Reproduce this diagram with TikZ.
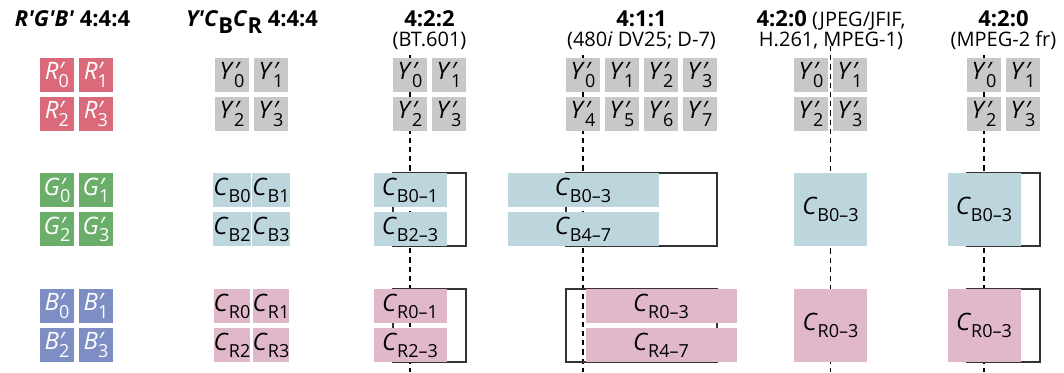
\documentclass[tikz,border=0pt]{standalone}
\usepackage{fontspec}
\setmainfont{Open Sans}
\usetikzlibrary{positioning}
\definecolor{primered}{HTML}{DA6A7A}
\definecolor{primegreen}{HTML}{6AAE6A}
\definecolor{primeblue}{HTML}{7E8DC4}
\definecolor{lumagray}{HTML}{C8C8C8}
\definecolor{chromablue}{HTML}{BDD6DD}
\definecolor{chromared}{HTML}{E0B8CA}
\newcommand{\lowsub}[1]{\raisebox{-3.6pt}{\fontsize{9}{9}\selectfont #1}}
\newcommand{\smp}[2]{\textit{#1}\makebox[0pt][l]{\textit{′}}\lowsub{#2}}
\newcommand{\chr}[2]{\textit{#1}\lowsub{#2}}

\begin{document}
\begin{tikzpicture}[
  x=0.5pt, y=-0.5pt,
  sample/.style={minimum width=17pt, minimum height=17pt, inner sep=0pt, outer sep=0pt,
    font=\fontsize{12}{12}\selectfont},
  rbox/.style={sample, fill=primered, text=white},
  gbox/.style={sample, fill=primegreen, text=white},
  bbox/.style={sample, fill=primeblue, text=white},
  ybox/.style={sample, fill=lumagray},
  cbbox/.style={sample, fill=chromablue},
  crbox/.style={sample, fill=chromared},
  pair/.style={minimum width=36.5pt},
  quad/.style={minimum width=75.5pt},
  block/.style={minimum width=36.5pt, minimum height=36.5pt},
  nominal/.style={draw=black!80, line width=0.6pt, minimum height=36.5pt,
    inner sep=0pt, outer sep=0pt},
  siting/.style={draw=black, line width=0.6pt, dash pattern=on 2.6pt off 2pt},
  htitle/.style={anchor=base, font=\bfseries\fontsize{11}{11}\selectfont},
  hsub/.style={anchor=base, font=\fontsize{10}{10}\selectfont},
]
\useasboundingbox (0,0) rectangle (1064,372);

% ---- headings ----
\node[htitle] (t444rgb) at (72.5,26.5) {\textit{R′G′B′} 4:4:4};
\node[htitle] (t444ycc) at (252,26.5) {\textit{Y′C}\raisebox{-3.6pt}{B}\textit{C}\raisebox{-3.6pt}{R} 4:4:4};
\node[htitle] (t422) at (429.5,26.5) {4:2:2};
\node[hsub] (s422) at (429.5,46.5) {(BT.601)};
\node[htitle] (t411) at (641.5,26.5) {4:1:1};
\node[hsub] (s411) at (641.5,46.5) {(480\textit{i} DV25; D-7)};
\node[hsub] (t420j) at (831,26.5) {\textbf{\fontsize{11}{11}\selectfont 4:2:0} (JPEG/JFIF,};
\node[hsub] (s420j) at (831,46.5) {H.261, MPEG-1)};
\node[htitle] (t420m) at (1003.5,26.5) {4:2:0};
\node[hsub] (s420m) at (1003.5,46.5) {(MPEG-2 fr)};

% ---- siting lines and nominal chroma areas (behind the samples) ----
\coordinate (d422t) at (410,55);   \coordinate (d422b) at (410,372);
\coordinate (d411t) at (583,55);   \coordinate (d411b) at (583,372);
\coordinate (d420jt) at (830.5,46); \coordinate (d420jb) at (830.5,372);
\coordinate (d420mt) at (984,55);  \coordinate (d420mb) at (984,372);
\draw[siting] (d422t) -- (d422b);
\draw[siting] (d411t) -- (d411b);
\draw[siting] (d420jt) -- (d420jb);
\draw[siting] (d420mt) -- (d420mb);
\node[nominal, minimum width=36.5pt] (n422b) at (429.5,209.5) {};
\node[nominal, minimum width=36.5pt] (n422r) at (429.5,325.5) {};
\node[nominal, minimum width=75.5pt] (n411b) at (641.5,209.5) {};
\node[nominal, minimum width=75.5pt] (n411r) at (641.5,325.5) {};
\node[nominal, minimum width=36.5pt] (n420mb) at (1003.5,209.5) {};
\node[nominal, minimum width=36.5pt] (n420mr) at (1003.5,325.5) {};

% ---- R'G'B' 4:4:4 ----
\node[rbox] (r0) at (57,75) {\smp{R}{0}};
\node[rbox] (r1) at (96,75) {\smp{R}{1}};
\node[rbox] (r2) at (57,114) {\smp{R}{2}};
\node[rbox] (r3) at (96,114) {\smp{R}{3}};
\node[gbox] (g0) at (57,190) {\smp{G}{0}};
\node[gbox] (g1) at (96,190) {\smp{G}{1}};
\node[gbox] (g2) at (57,229) {\smp{G}{2}};
\node[gbox] (g3) at (96,229) {\smp{G}{3}};
\node[bbox] (b0) at (57,306) {\smp{B}{0}};
\node[bbox] (b1) at (96,306) {\smp{B}{1}};
\node[bbox] (b2) at (57,345) {\smp{B}{2}};
\node[bbox] (b3) at (96,345) {\smp{B}{3}};

% ---- Y'CbCr 4:4:4 ----
\node[ybox] (y0) at (232,75) {\smp{Y}{0}};
\node[ybox] (y1) at (271,75) {\smp{Y}{1}};
\node[ybox] (y2) at (232,114) {\smp{Y}{2}};
\node[ybox] (y3) at (271,114) {\smp{Y}{3}};
\node[cbbox] (cb0) at (232,190) {\chr{C}{B0}};
\node[cbbox] (cb1) at (271,190) {\chr{C}{B1}};
\node[cbbox] (cb2) at (232,229) {\chr{C}{B2}};
\node[cbbox] (cb3) at (271,229) {\chr{C}{B3}};
\node[crbox] (cr0) at (232,306) {\chr{C}{R0}};
\node[crbox] (cr1) at (271,306) {\chr{C}{R1}};
\node[crbox] (cr2) at (232,345) {\chr{C}{R2}};
\node[crbox] (cr3) at (271,345) {\chr{C}{R3}};

% ---- 4:2:2 ----
\node[ybox] (ya0) at (410,75) {\smp{Y}{0}};
\node[ybox] (ya1) at (449,75) {\smp{Y}{1}};
\node[ybox] (ya2) at (410,114) {\smp{Y}{2}};
\node[ybox] (ya3) at (449,114) {\smp{Y}{3}};
\node[cbbox, pair] (cba01) at (410,190) {\chr{C}{B0–1}};
\node[cbbox, pair] (cba23) at (410,229) {\chr{C}{B2–3}};
\node[crbox, pair] (cra01) at (410,306) {\chr{C}{R0–1}};
\node[crbox, pair] (cra23) at (410,345) {\chr{C}{R2–3}};

% ---- 4:1:1 ----
\node[ybox] (yb0) at (583,75) {\smp{Y}{0}};
\node[ybox] (yb1) at (622,75) {\smp{Y}{1}};
\node[ybox] (yb2) at (661,75) {\smp{Y}{2}};
\node[ybox] (yb3) at (700,75) {\smp{Y}{3}};
\node[ybox] (yb4) at (583,114) {\smp{Y}{4}};
\node[ybox] (yb5) at (622,114) {\smp{Y}{5}};
\node[ybox] (yb6) at (661,114) {\smp{Y}{6}};
\node[ybox] (yb7) at (700,114) {\smp{Y}{7}};
\node[cbbox, quad] (cbb03) at (583,190) {\chr{C}{B0–3}};
\node[cbbox, quad] (cbb47) at (583,229) {\chr{C}{B4–7}};
\node[crbox, quad] (crb03) at (661,306) {\chr{C}{R0–3}};
\node[crbox, quad] (crb47) at (661,345) {\chr{C}{R4–7}};

% ---- 4:2:0 JPEG/JFIF ----
\node[ybox] (yc0) at (811,75) {\smp{Y}{0}};
\node[ybox] (yc1) at (850,75) {\smp{Y}{1}};
\node[ybox] (yc2) at (811,114) {\smp{Y}{2}};
\node[ybox] (yc3) at (850,114) {\smp{Y}{3}};
\node[cbbox, block] (cbc03) at (830.5,209.5) {\chr{C}{B0–3}};
\node[crbox, block] (crc03) at (830.5,325.5) {\chr{C}{R0–3}};

% ---- 4:2:0 MPEG-2 frame ----
\node[ybox] (yd0) at (984,75) {\smp{Y}{0}};
\node[ybox] (yd1) at (1023,75) {\smp{Y}{1}};
\node[ybox] (yd2) at (984,114) {\smp{Y}{2}};
\node[ybox] (yd3) at (1023,114) {\smp{Y}{3}};
\node[cbbox, block] (cbd03) at (984,209.5) {\chr{C}{B0–3}};
\node[crbox, block] (crd03) at (984,325.5) {\chr{C}{R0–3}};

\end{tikzpicture}
\end{document}
